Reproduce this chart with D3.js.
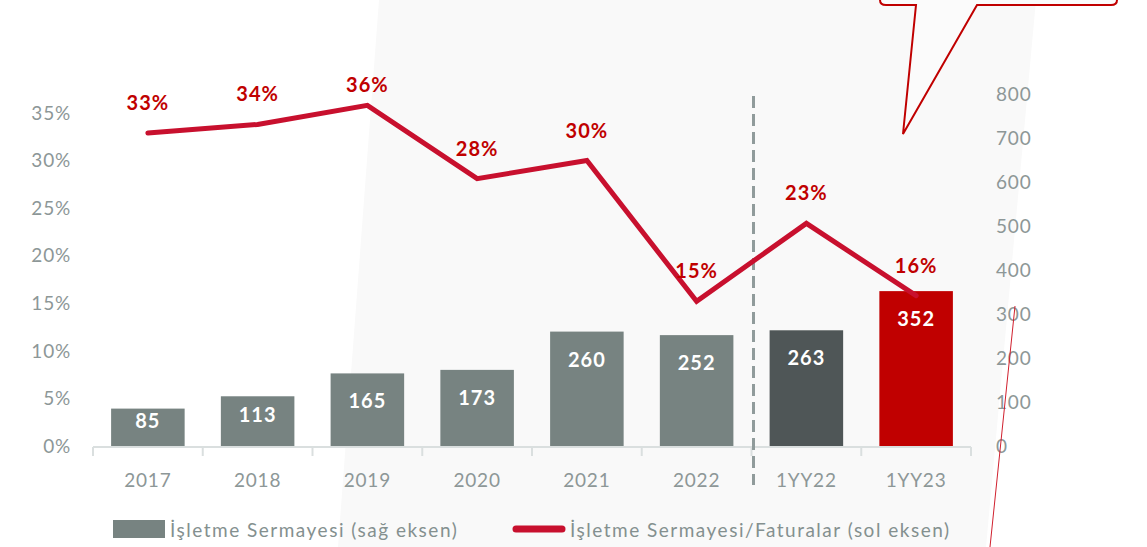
<!DOCTYPE html>
<html lang="tr">
	<head>
		<meta charset="utf-8">
		<title> İşletme Sermayesi </title>
		<script src="https://cdn.jsdelivr.net/npm/d3@7"></script>
		<style>
			body {
				margin:0;
				background:#ffffff;
			}
			text {
				font-family:Lato, "Open Sans", sans-serif;
			}
			.tick-label {
				fill:#8D9797;
				font-size:19px;
				letter-spacing:0.8px;
			}
			.bar-label {
				fill:#ffffff;
				font-size:20px;
				font-weight:bold;
				letter-spacing:1px;
			}
			.pct-label {
				fill:#C00000;
				font-size:20px;
				font-weight:bold;
				letter-spacing:1px;
			}
			.legend-label {
				fill:#84908F;
				font-size:19px;
				letter-spacing:1.5px;
			}
		</style>
	</head>
	<body>
		<script type="text/javascript">

			// canvas
			const w = 1147, h = 547;

			// data
			var categories = ["2017", "2018", "2019", "2020", "2021", "2022", "1YY22", "1YY23"];
			var workingCapital = [85, 113, 165, 173, 260, 252, 263, 352];
			var ratioValues = [32.9, 33.8, 35.8, 28.1, 30.0, 15.2, 23.4, 15.8];
			var ratioLabels = ["33%", "34%", "36%", "28%", "30%", "15%", "23%", "16%"];
			var leftTicks = [0, 5, 10, 15, 20, 25, 30, 35];
			var rightTicks = [0, 100, 200, 300, 400, 500, 600, 700, 800];
			var legendNames = ["İşletme Sermayesi (sağ eksen)", "İşletme Sermayesi/Faturalar (sol eksen)"];

			var barColor = function(i) {
				if (i == 6) return "#4F5657";
				if (i == 7) return "#C00000";
				return "#778381";
			};

			var svg = d3.select("body")
						.append("svg")
						.attr("width", w)
						.attr("height", h);

			// light slanted panel in the back
			svg.append("polygon")
			   .attr("points", "379,0 1036,0 986,547 338,547")
			   .attr("fill", "#F9F9F9");

			// Scales
			var xScale = d3.scaleBand()
						   .domain(categories)
						   .range([93, 971])
						   .paddingInner(0.33)
						   .paddingOuter(0.165);

			var yLeft = d3.scaleLinear()
						  .domain([0, 35])
						  .range([446, 113]);

			var yRight = d3.scaleLinear()
						   .domain([0, 800])
						   .range([446, 94]);

			var step = xScale.step();

			// left axis labels
			svg.append("g")
			   .attr("class", "yLeft")
			   .selectAll("text")
			   .data(leftTicks)
			   .enter()
			   .append("text")
			   .attr("class", "tick-label")
			   .attr("x", 71)
			   .attr("y", d => yLeft(d))
			   .attr("dy", "0.35em")
			   .style("text-anchor", "end")
			   .text(d => d + "%");

			// right axis labels
			svg.append("g")
			   .attr("class", "yRight")
			   .selectAll("text")
			   .data(rightTicks)
			   .enter()
			   .append("text")
			   .attr("class", "tick-label")
			   .attr("x", 996)
			   .attr("y", d => yRight(d))
			   .attr("dy", "0.35em")
			   .style("text-anchor", "start")
			   .text(d => d);

			// bars
			svg.append("g")
			   .selectAll("rect")
			   .data(workingCapital)
			   .enter()
			   .append("rect")
			   .attr("x", (d, i) => xScale(categories[i]))
			   .attr("y", d => yRight(d))
			   .attr("width", xScale.bandwidth())
			   .attr("height", d => yRight(0) - yRight(d))
			   .attr("fill", (d, i) => barColor(i));

			// x axis line + ticks
			var xAxis = d3.axisBottom(xScale)
						  .tickSize(0)
						  .tickFormat("");
			var gx = svg.append("g")
						.attr("class", "xAxis")
						.attr("transform", "translate(0,447)")
						.call(xAxis);
			gx.select(".domain").remove();
			gx.append("line")
			  .attr("x1", 93).attr("x2", 971)
			  .attr("stroke", "#DADFDF")
			  .attr("stroke-width", 2);
			gx.selectAll(".sep")
			  .data(d3.range(categories.length + 1))
			  .enter()
			  .append("line")
			  .attr("x1", i => 93 + i * step)
			  .attr("x2", i => 93 + i * step)
			  .attr("y1", 0).attr("y2", 9)
			  .attr("stroke", "#DADFDF")
			  .attr("stroke-width", 2);

			svg.append("g")
			   .selectAll("text")
			   .data(categories)
			   .enter()
			   .append("text")
			   .attr("class", "tick-label")
			   .attr("x", d => xScale(d) + xScale.bandwidth() / 2)
			   .attr("y", 480)
			   .attr("dy", "0.35em")
			   .style("text-anchor", "middle")
			   .text(d => d);

			// bar value labels (inside end)
			svg.append("g")
			   .selectAll("text")
			   .data(workingCapital)
			   .enter()
			   .append("text")
			   .attr("class", "bar-label")
			   .attr("x", (d, i) => xScale(categories[i]) + xScale.bandwidth() / 2)
			   .attr("y", d => Math.min(yRight(d) + 28, (yRight(d) + yRight(0)) / 2 - 6))
			   .attr("dy", "0.35em")
			   .style("text-anchor", "middle")
			   .text(d => d);

			// dashed divider between years and half years
			var divX = xScale("1YY22") - step * xScale.paddingInner() / 2 + 2;
			svg.append("line")
			   .attr("x1", divX).attr("x2", divX)
			   .attr("y1", 96).attr("y2", 485)
			   .attr("stroke", "#909B9B")
			   .attr("stroke-width", 3)
			   .attr("stroke-dasharray", "12,6");

			// ratio line
			var line = d3.line()
						 .x((d, i) => xScale(categories[i]) + xScale.bandwidth() / 2)
						 .y(d => yLeft(d));

			svg.append("path")
			   .datum(ratioValues)
			   .attr("d", line)
			   .attr("fill", "none")
			   .attr("stroke", "#C8102E")
			   .attr("stroke-width", 5)
			   .attr("stroke-linecap", "round");

			svg.append("g")
			   .selectAll("text")
			   .data(ratioValues)
			   .enter()
			   .append("text")
			   .attr("class", "pct-label")
			   .attr("x", (d, i) => xScale(categories[i]) + xScale.bandwidth() / 2)
			   .attr("y", d => Math.max(yLeft(d) - 30, 85))
			   .attr("dy", "0.35em")
			   .style("text-anchor", "middle")
			   .text((d, i) => ratioLabels[i]);

			// callout bubble cut off at the top
			svg.append("path")
			   .attr("d", "M880,-20 L880,0 Q880,5 886,5 L916,5 L903,134 L977,5 L1111,5 Q1117,5 1117,0 L1117,-20")
			   .attr("fill", "#FBFBFB")
			   .attr("stroke", "#C00000")
			   .attr("stroke-width", 2)
			   .attr("stroke-linejoin", "miter");

			// thin red stroke on the right
			svg.append("line")
			   .attr("x1", 1015).attr("y1", 306)
			   .attr("x2", 990).attr("y2", 547)
			   .attr("stroke", "#D0202E")
			   .attr("stroke-width", 1);

			// Legend
			var legend = svg.append("g").attr("class", "legend");
			legend.append("rect")
				  .attr("x", 113).attr("y", 520)
				  .attr("width", 52).attr("height", 18)
				  .attr("fill", "#778381");
			legend.append("text")
				  .attr("class", "legend-label")
				  .attr("x", 170).attr("y", 530)
				  .attr("dy", "0.35em")
				  .text(legendNames[0]);
			legend.append("line")
				  .attr("x1", 516).attr("x2", 562)
				  .attr("y1", 529).attr("y2", 529)
				  .attr("stroke", "#C8102E")
				  .attr("stroke-width", 7)
				  .attr("stroke-linecap", "round");
			legend.append("text")
				  .attr("class", "legend-label")
				  .attr("x", 570).attr("y", 530)
				  .attr("dy", "0.35em")
				  .text(legendNames[1]);

		</script>
	</body>
</html>
